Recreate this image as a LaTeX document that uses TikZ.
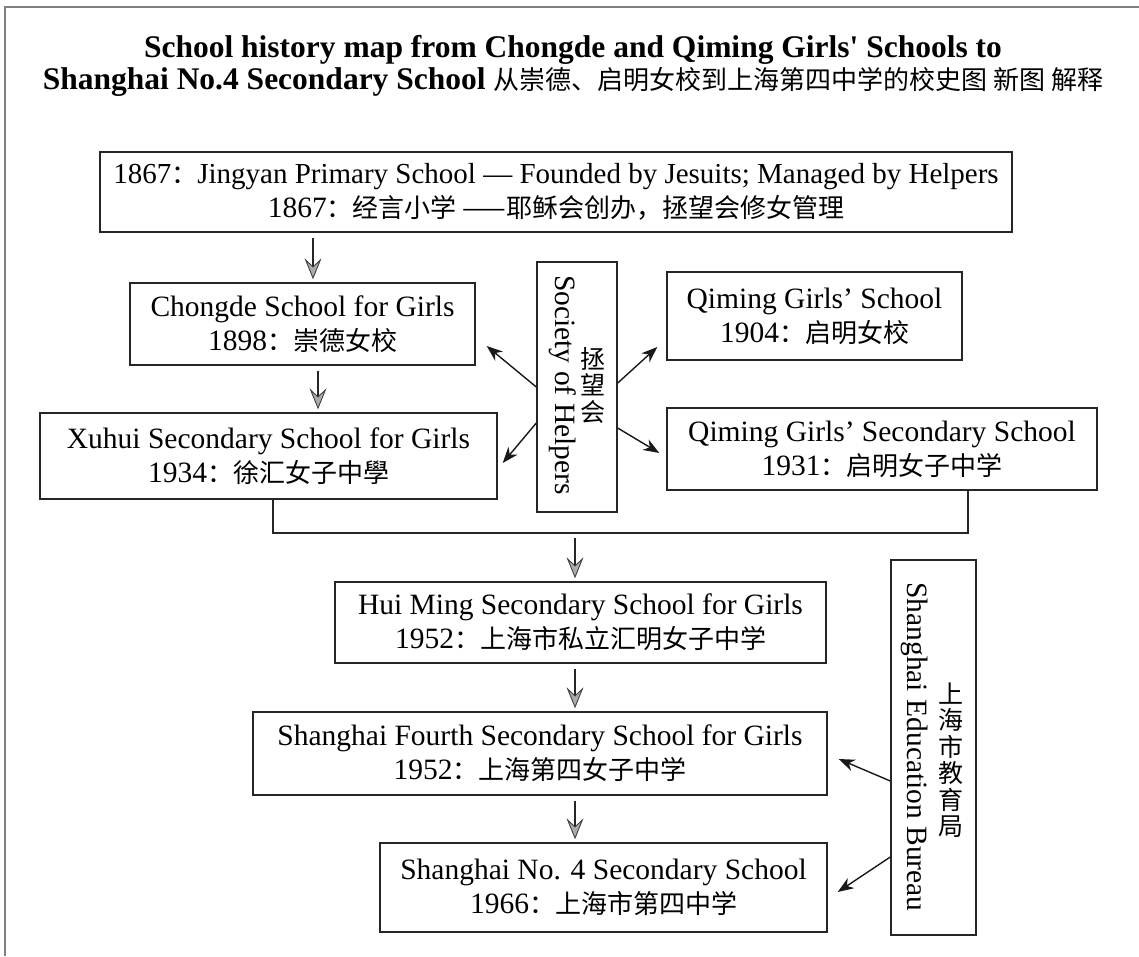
\documentclass[tikz,border=0pt]{standalone}
\usepackage{fontspec}
\setmainfont{Liberation Serif}
\newfontfamily\cjk{Noto Sans CJK SC}
\usepackage{tikz}
\usetikzlibrary{arrows.meta,calc}
\newcommand{\zh}[1]{{\cjk\fontsize{26}{34}\selectfont #1}}

\begin{document}
\begin{tikzpicture}[
			x = 1pt, y = -1pt,
			every node/.style = {font = \fontsize{29.5}{34}\selectfont},
			box/.style = {draw = black!85, line width = 1.4pt, align = center, inner sep = 0pt},
			titletext/.style = {font = \fontsize{31.5}{34}\selectfont\bfseries},
			zhcol/.style = {font = \cjk\fontsize{25}{26.5}\selectfont, align = center},
			flowarrow/.style = {line width = 1.2pt, draw = black!85, shorten < = 5pt, shorten > = 3pt,
				-{Stealth[length = 21pt, width = 17pt, inset = 8pt, fill = gray!65, color = gray!50!black, line width = 0.9pt]}},
			linkarrow/.style = {line width = 1.4pt, draw = black!90, -{Stealth[length = 16pt, width = 12pt, inset = 5pt]}}]

			\useasboundingbox (0,0) rectangle (1139,956);
			\draw[gray, line width = 1.5pt] (5,956) -- (5,7) -- (1139,7);

			\node[titletext] (title1) at (573,50) {School history map from Chongde and Qiming Girls\textquotesingle{} Schools to};
			\node[titletext] (title2) at (573,82) {Shanghai No.4 Secondary School \zh{\mdseries 从崇德、启明女校到上海第四中学的校史图 新图 解释}};

			\node[box, minimum width = 912pt, minimum height = 80pt] (jingyan) at (556,192) {\fontsize{29}{34}\selectfont 1867\zh{：}Jingyan Primary School --- Founded by Jesuits; Managed by Helpers\\ 1867\zh{：经言小学 ——耶稣会创办，拯望会修女管理}};
			\node[box, minimum width = 345pt, minimum height = 82pt] (chongde) at (302.5,324) {Chongde School for Girls\\ 1898\zh{：崇德女校}};
			\node[box, minimum width = 457pt, minimum height = 86pt] (xuhui) at (268.5,456) {Xuhui Secondary School for Girls\\ 1934\zh{：徐汇女子中學}};
			\node[box, minimum width = 295pt, minimum height = 88pt] (qiming) at (814.5,316) {Qiming Girls' School\\ 1904\zh{：启明女校}};
			\node[box, minimum width = 430pt, minimum height = 82pt] (qimingsec) at (882,449) {Qiming Girls' Secondary School\\ 1931\zh{：启明女子中学}};

			\node[box, minimum width = 80pt, minimum height = 250pt] (society) at (577,387) {};
			\node[rotate = -90] (societyen) at (563,385) {Society of Helpers};
			\node[zhcol] (societyzh) at (593,385) {拯\\望\\会};

			\node[box, minimum width = 491pt, minimum height = 81pt] (huiming) at (580.5,622.5) {Hui Ming Secondary School for Girls\\ 1952\zh{：上海市私立汇明女子中学}};
			\node[box, minimum width = 574pt, minimum height = 83pt] (fourth) at (540,753.5) {Shanghai Fourth Secondary School for Girls\\ 1952\zh{：上海第四女子中学}};
			\node[box, minimum width = 447pt, minimum height = 89pt] (nofour) at (603.5,887.5) {Shanghai No. 4 Secondary School\\ 1966\zh{：上海市第四中学}};

			\node[box, minimum width = 85pt, minimum height = 375pt] (bureau) at (933.5,747.5) {};
			\node[rotate = -90] (bureauen) at (915,747) {Shanghai Education Bureau};
			\node[zhcol] (bureauzh) at (951,760) {上\\海\\市\\教\\育\\局};

			\coordinate (a1) at (313,0);
			\coordinate (a2) at (318,0);
			\coordinate (bl) at (273,533);
			\coordinate (br) at (968,533);
			\coordinate (join) at (575,533);

			\draw[flowarrow] (jingyan.south -| a1) -- (chongde.north -| a1);
			\draw[flowarrow] (chongde.south -| a2) -- (xuhui.north -| a2);
			\draw[black!85, line width = 1.4pt] (xuhui.south -| bl) -- (bl) -- (br) -- (qimingsec.south -| br);
			\draw[flowarrow] (join) -- (huiming.north -| join);
			\draw[flowarrow] (huiming.south -| join) -- (fourth.north -| join);
			\draw[flowarrow] (fourth.south -| join) -- (nofour.north -| join);

			\draw[linkarrow] (society.west) -- ($(chongde.east)+(11,22)$);
			\draw[linkarrow] ($(society.west)+(0,36)$) -- ($(xuhui.east)+(5,7)$);
			\draw[linkarrow] ($(society.east)+(0,-4)$) -- ($(qiming.west)+(-9,31)$);
			\draw[linkarrow] ($(society.east)+(0,41)$) -- ($(qimingsec.west)+(-7,4)$);

			\draw[linkarrow] ($(bureau.west)+(0,33.5)$) -- ($(fourth.east)+(11,5.5)$);
			\draw[linkarrow] ($(bureau.west)+(0,109.5)$) -- ($(nofour.east)+(10,4.5)$);

		\end{tikzpicture}
\end{document}
